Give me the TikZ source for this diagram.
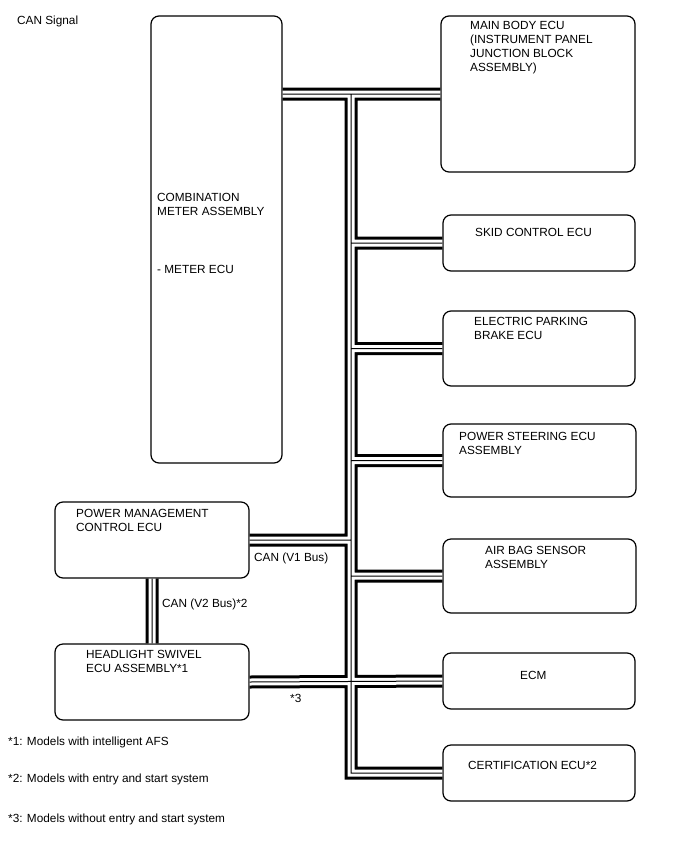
\documentclass[tikz,border=0pt]{standalone}
\usepackage{fontspec}
\setmainfont{Liberation Sans}
\begin{document}
\begin{tikzpicture}[x=1pt,y=-1pt,
  ecu/.style={draw, line width=1.2pt, rounded corners=8pt, inner sep=0pt},
  txt/.style={anchor=base west, inner sep=0pt, align=left, font=\fontsize{11.8}{14}\selectfont},
  bus/.style={white, line width=7pt, preaction={draw=black, line width=13pt},
              postaction={draw=black, line width=1pt}}]

\useasboundingbox (0,0) rectangle (688,852);

\node[txt] (title) at (17,24) {CAN Signal};

% ECUs
\node[ecu, minimum width=131pt, minimum height=447pt] (meter)    at (216.5,239.5) {};
\node[ecu, minimum width=194pt, minimum height=156pt] (mainbody) at (538,94) {};
\node[ecu, minimum width=192pt, minimum height=56pt]  (skid)     at (539,243) {};
\node[ecu, minimum width=192pt, minimum height=75pt]  (epb)      at (539,348.5) {};
\node[ecu, minimum width=193pt, minimum height=73pt]  (pwrstr)   at (539.5,460.5) {};
\node[ecu, minimum width=193pt, minimum height=74pt]  (airbag)   at (539.5,576) {};
\node[ecu, minimum width=192pt, minimum height=56pt]  (ecm)      at (539,681) {};
\node[ecu, minimum width=192pt, minimum height=56pt]  (cert)     at (539,773) {};
\node[ecu, minimum width=194pt, minimum height=76pt]  (pwrmgmt)  at (152,540) {};
\node[ecu, minimum width=194pt, minimum height=76pt]  (swivel)   at (152,682) {};

% texts sit on the baseline of their last line
\node[txt] (meter-t)    at (157,215) {COMBINATION\\METER ASSEMBLY};
\node[txt] (meter-t2)   at (157,273) {- METER ECU};
\node[txt] (mainbody-t) at (470,71) {MAIN BODY ECU\\(INSTRUMENT PANEL\\JUNCTION BLOCK\\ASSEMBLY)};
\node[txt] (skid-t)     at (475,236) {SKID CONTROL ECU};
\node[txt] (epb-t)      at (474,339) {ELECTRIC PARKING\\BRAKE ECU};
\node[txt] (pwrstr-t)   at (459,454) {POWER STEERING ECU\\ASSEMBLY};
\node[txt] (airbag-t)   at (485,568) {AIR BAG SENSOR\\ASSEMBLY};
\node[txt] (ecm-t)      at (520,679) {ECM};
\node[txt] (cert-t)     at (468,769) {CERTIFICATION ECU*2};
\node[txt] (pwrmgmt-t)  at (76,531) {POWER MANAGEMENT\\CONTROL ECU};
\node[txt] (swivel-t)   at (86,672) {HEADLIGHT SWIVEL\\ECU ASSEMBLY*1};

% bus lines
\coordinate (trunk) at (351,94);
\draw[bus] (meter.east |- mainbody.west) -- (mainbody.west)
  (trunk) -- (trunk |- cert.west) -- (cert.west)
  (trunk |- skid.west) -- (skid.west)
  (trunk |- epb.west) -- (epb.west)
  (trunk |- pwrstr.west) -- (pwrstr.west)
  (trunk |- airbag.west) -- (airbag.west)
  (pwrmgmt.east) -- (pwrmgmt.east -| trunk)
  (swivel.east) -- (ecm.west)
  (pwrmgmt.south) -- (swivel.north);

\node[txt] (v1)  at (254,561) {CAN (V1 Bus)};
\node[txt] (v2)  at (162,607) {CAN (V2 Bus)*2};
\node[txt] (no3) at (290,702) {*3};

% notes
\node[txt] (note1) at (8,745) {*1: Models with intelligent AFS};
\node[txt] (note2) at (8,782) {*2: Models with entry and start system};
\node[txt] (note3) at (8,822) {*3: Models without entry and start system};

\end{tikzpicture}
\end{document}
